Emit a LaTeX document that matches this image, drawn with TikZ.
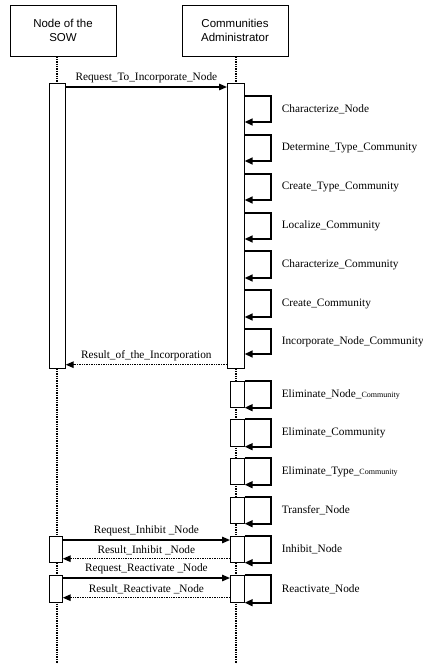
\documentclass[tikz,border=0pt]{standalone}
\usepackage{fontspec}
\setmainfont{Liberation Serif}
\setsansfont{Liberation Sans}
\usetikzlibrary{arrows.meta}

\tikzset{
    head/.style={draw, fill=white, line width=0.8pt, minimum width=106pt, minimum height=51pt,
        align=center, font=\sffamily\fontsize{11.5}{14}\selectfont},
    bar/.style={draw, fill=white, line width=0.7pt, inner sep=0pt, anchor=north west, minimum width=14pt},
    life/.style={densely dotted, line width=1.4pt},
    call/.style={line width=1.4pt, -{Triangle[length=8pt,width=6.5pt]}},
    back/.style={densely dotted, line width=1.4pt, -{Triangle[length=8pt,width=6.5pt]}},
    self/.style={line width=1.6pt, -{Triangle[length=8pt,width=7pt]}},
    msg/.style={font=\fontsize{11.3}{13}\selectfont},
    lbl/.style={msg, right=7pt},
}

\begin{document}
\begin{tikzpicture}[x=1pt, y=-1pt]
    \useasboundingbox (0,0) rectangle (423,664);

    \node[head] at (63,30.5) (sow) {Node of the\\SOW};
    \node[head] at (235,30.5) (adm) {Communities\\Administrator};

    \coordinate (endL) at (57,664);
    \coordinate (endR) at (236,664);
    \draw[life] (sow.south -| endL) -- (endL);
    \draw[life] (adm.south -| endR) -- (endR);

    \node[bar, minimum width=16pt, minimum height=285pt] at (49,83) (actL) {};
    \node[bar, minimum width=17pt, minimum height=285pt] at (227,83) (actR) {};

    \draw[call] ([yshift=-4pt]actL.north east) -- node[msg, above] (m1) {Request\_To\_Incorporate\_Node} ([yshift=-4pt]actR.north west);

    \draw[self] ([yshift=-13pt]actR.north east) -- ++(26,0) |- ++(-26,26) node[lbl, pos=0.25] (s1) {Characterize\_Node};
    \draw[self] ([yshift=-52pt]actR.north east) -- ++(26,0) |- ++(-26,26) node[lbl, pos=0.25] (s2) {Determine\_Type\_Community};
    \draw[self] ([yshift=-91pt]actR.north east) -- ++(26,0) |- ++(-26,26) node[lbl, pos=0.25] (s3) {Create\_Type\_Community};
    \draw[self] ([yshift=-130pt]actR.north east) -- ++(26,0) |- ++(-26,26) node[lbl, pos=0.25] (s4) {Localize\_Community};
    \draw[self] ([yshift=-168pt]actR.north east) -- ++(26,0) |- ++(-26,27) node[lbl, pos=0.25] (s5) {Characterize\_Community};
    \draw[self] ([yshift=-207pt]actR.north east) -- ++(26,0) |- ++(-26,27) node[lbl, pos=0.25] (s6) {Create\_Community};
    \draw[self] ([yshift=-246pt]actR.north east) -- ++(26,0) |- ++(-26,25) node[lbl, pos=0.25] (s7) {Incorporate\_Node\_Community};

    \draw[back] ([yshift=4pt]actR.south west) -- node[msg, above] (m2) {Result\_of\_the\_Incorporation} ([yshift=4pt]actL.south east);

    % calls without reply
    \node[bar, minimum height=26pt] at (230,381) (elN) {};
    \node[bar, minimum height=27pt] at (230,419) (elC) {};
    \node[bar, minimum height=26pt] at (230,458) (elT) {};
    \node[bar, minimum height=26pt] at (230,497) (trN) {};
    \draw[self] (elN.north east) -- ++(26,0) |- (elN.south east) node[lbl, pos=0.25] (s8) {Eliminate\_Node\_{\fontsize{8}{9}\selectfont Community}};
    \draw[self] (elC.north east) -- ++(26,0) |- (elC.south east) node[lbl, pos=0.25] (s9) {Eliminate\_Community};
    \draw[self] (elT.north east) -- ++(26,0) |- (elT.south east) node[lbl, pos=0.25] (s10) {Eliminate\_Type\_{\fontsize{8}{9}\selectfont Community}};
    \draw[self] (trN.north east) -- ++(26,0) |- (trN.south east) node[lbl, pos=0.25] (s11) {Transfer\_Node};

    % inhibit / reactivate
    \node[bar, minimum width=13pt, minimum height=26pt] at (49,536) (inhL) {};
    \node[bar, minimum height=26pt] at (230,536) (inhR) {};
    \node[bar, minimum width=13pt, minimum height=27pt] at (49,575) (reaL) {};
    \node[bar, minimum height=27pt] at (230,575) (reaR) {};

    \draw[call] ([yshift=-4pt]inhL.north east) -- node[msg, above] (m3) {Request\_Inhibit \_Node} ([yshift=-4pt]inhR.north west);
    \draw[back] ([yshift=4pt]inhR.south west) -- node[msg, above] (m4) {Result\_Inhibit \_Node} ([yshift=4pt]inhL.south east);
    \draw[self] (inhR.north east) -- ++(26,0) |- (inhR.south east) node[lbl, pos=0.25] (s12) {Inhibit\_Node};

    \draw[call] ([yshift=-3pt]reaL.north east) -- node[msg, above] (m5) {Request\_Reactivate \_Node} ([yshift=-3pt]reaR.north west);
    \draw[back] ([yshift=5pt]reaR.south west) -- node[msg, above] (m6) {Result\_Reactivate \_Node} ([yshift=5pt]reaL.south east);
    \draw[self] (reaR.north east) -- ++(26,0) |- (reaR.south east) node[lbl, pos=0.25] (s13) {Reactivate\_Node};
\end{tikzpicture}
\end{document}
